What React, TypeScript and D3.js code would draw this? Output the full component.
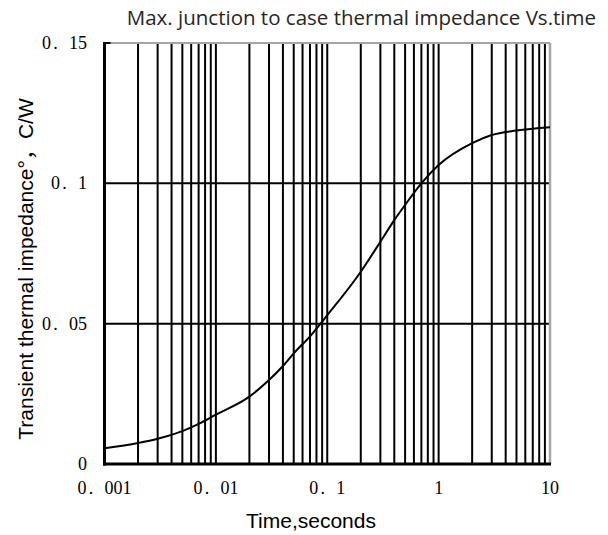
import { useEffect, useRef } from "react";
import * as d3 from "d3";

// Zth(j-c), seconds -> C/W
const timeSec = [0.001, 0.002, 0.003, 0.005, 0.007, 0.01, 0.02, 0.03, 0.04, 0.05, 0.07, 0.1, 0.2, 0.3, 0.4, 0.5, 0.7, 1, 2, 3, 5, 10];
const zthJC = [0.0056, 0.0075, 0.009, 0.0117, 0.0143, 0.0176, 0.024, 0.0299, 0.0349, 0.0394, 0.0455, 0.053, 0.0685, 0.0792, 0.0869, 0.0923, 0.1, 0.1065, 0.1143, 0.1172, 0.1188, 0.12];

const xTickValues = [0.001, 0.01, 0.1, 1, 10];
const xTickLabels = ["0. 001", "0. 01", "0. 1", "1", "10"];
const yTickValues = [0, 0.05, 0.1, 0.15];
const yTickLabels = ["0", "0. 05", "0. 1", "0. 15"];

const title = "Max. junction to case thermal impedance Vs.time";
const xTitle = "Time,seconds";
const yTitle = "Transient thermal impedance°，C/W";

const W = 608;
const H = 535;
const margin = { top: 43, right: 58, bottom: 71, left: 104.5 };
const labelFont = "'Liberation Serif', 'Times New Roman', serif";
const labelSize = 18;
const charW = labelSize / 2; // half-width glyph cells, like the CJK serif in the original

export default function App() {
  const svgRef = useRef<SVGSVGElement>(null);

  useEffect(() => {
    if (!svgRef.current) return;
    const svg = d3.select(svgRef.current);
    svg.selectAll("*").remove();

    const x = d3.scaleLog().domain([0.001, 10]).range([margin.left, W - margin.right]);
    const y = d3.scaleLinear().domain([0, 0.15]).range([H - margin.bottom, margin.top]);
    const [x0, x1] = x.range();
    const [y0, y1] = y.range();

    // vertical log grid, 1..9 per decade
    const gridX = x.ticks().filter((t) => t > 0.001 && t < 10);
    svg
      .append("g")
      .selectAll("line")
      .data(gridX)
      .enter()
      .append("line")
      .attr("x1", (d) => x(d))
      .attr("x2", (d) => x(d))
      .attr("y1", y0)
      .attr("y2", y1)
      .attr("stroke", "#000")
      .attr("stroke-width", 2);

    // horizontal grid
    svg
      .append("g")
      .selectAll("line")
      .data(yTickValues.filter((v) => v > 0 && v < 0.15))
      .enter()
      .append("line")
      .attr("x1", x0)
      .attr("x2", x1)
      .attr("y1", (d) => y(d))
      .attr("y2", (d) => y(d))
      .attr("stroke", "#000")
      .attr("stroke-width", 2);

    // top / right frame in grey
    svg.append("line").attr("x1", x0).attr("x2", x1).attr("y1", y1).attr("y2", y1).attr("stroke", "#a6a6a6").attr("stroke-width", 2);
    svg.append("line").attr("x1", x1).attr("x2", x1).attr("y1", y1).attr("y2", y0).attr("stroke", "#a6a6a6").attr("stroke-width", 2.5);

    // the curve
    const line = d3
      .line<number>()
      .x((_, i) => x(timeSec[i]))
      .y((d) => y(d))
      .curve(d3.curveMonotoneX);
    svg
      .append("path")
      .datum(zthJC)
      .attr("d", line)
      .attr("fill", "none")
      .attr("stroke", "#000")
      .attr("stroke-width", 2);

    // axes
    svg.append("line").attr("x1", x0).attr("x2", x0).attr("y1", y1 - 1).attr("y2", y0 + 1.5).attr("stroke", "#000").attr("stroke-width", 3);
    svg.append("line").attr("x1", x0 - 1.5).attr("x2", x1 + 1).attr("y1", y0).attr("y2", y0).attr("stroke", "#000").attr("stroke-width", 3);
    svg.append("line").attr("x1", x0).attr("x2", x0 + 6).attr("y1", y1).attr("y2", y1).attr("stroke", "#000").attr("stroke-width", 2);

    // tick labels, one cell per character
    const cells = (left: number, s: string) =>
      Array.from(s).map((_, i) => left + charW * (i + 0.5)).join(" ");

    svg
      .append("g")
      .selectAll("text")
      .data(xTickValues)
      .enter()
      .append("text")
      .attr("x", (d, i) => cells(x(d) - (xTickLabels[i].length * charW) / 2, xTickLabels[i]))
      .attr("y", y0 + 30)
      .attr("text-anchor", "middle")
      .attr("font-family", labelFont)
      .attr("font-size", labelSize)
      .attr("fill", "#000")
      .text((_, i) => xTickLabels[i]);

    svg
      .append("g")
      .selectAll("text")
      .data(yTickValues)
      .enter()
      .append("text")
      .attr("x", (_, i) => cells(x0 - 17.5 - yTickLabels[i].length * charW, yTickLabels[i]))
      .attr("y", (d) => y(d) + 6)
      .attr("text-anchor", "middle")
      .attr("font-family", labelFont)
      .attr("font-size", labelSize)
      .attr("fill", "#000")
      .text((_, i) => yTickLabels[i]);

    // titles
    svg
      .append("text")
      .attr("x", 596)
      .attr("y", 25)
      .attr("text-anchor", "end")
      .attr("font-family", "'Open Sans', 'Noto Sans', sans-serif")
      .attr("font-size", 20.5)
      .attr("fill", "#262626")
      .text(title);

    svg
      .append("text")
      .attr("x", 311)
      .attr("y", 528)
      .attr("text-anchor", "middle")
      .attr("font-family", "'Liberation Sans', Arial, sans-serif")
      .attr("font-size", 21)
      .attr("fill", "#000")
      .text(xTitle);

    svg
      .append("text")
      .attr("transform", "translate(33,269) rotate(-90)")
      .attr("text-anchor", "middle")
      .attr("font-family", "'Liberation Sans', Arial, 'Noto Sans CJK SC', sans-serif")
      .attr("font-size", 21)
      .attr("fill", "#000")
      .text(yTitle);
  }, []);

  return (
    <svg
      ref={svgRef}
      width={W}
      height={H}
      style={{ position: "absolute", left: 0, top: 0, background: "#fff" }}
    />
  );
}
